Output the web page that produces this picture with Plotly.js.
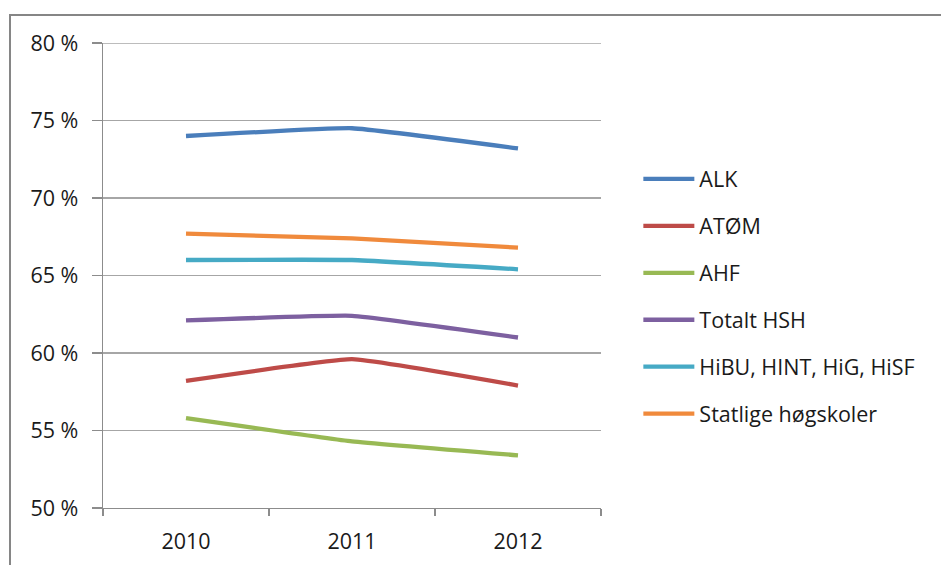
<!DOCTYPE html>
<html>
<head>
<meta charset="utf-8">
<script src="https://cdn.plot.ly/plotly-3.0.1.min.js"></script>
<style>
  html, body { margin: 0; padding: 0; background: #fff; }
  #wrap { position: relative; width: 941px; height: 565px; overflow: hidden; }
  #chart { position: absolute; left: 0; top: 0; width: 941px; height: 565px; }
  .bt { position: absolute; left: 9px; top: 14px; width: 932px; height: 2px; background: #868686; }
  .bl { position: absolute; left: 9px; top: 14px; width: 2px; height: 551px; background: #868686; }
</style>
</head>
<body>
<div id="wrap">
  <div id="chart"></div>
  <div class="bt"></div>
  <div class="bl"></div>
</div>
<script>
const years = ["2010", "2011", "2012"];
const seriesNames = ["ALK", "ATØM", "AHF", "Totalt HSH", "HiBU, HINT, HiG, HiSF", "Statlige høgskoler"];
const alk = [74.0, 74.5, 73.2];
const atom = [58.2, 59.6, 57.9];
const ahf = [55.8, 54.3, 53.4];
const totaltHSH = [62.1, 62.4, 61.0];
const hibu = [66.0, 66.0, 65.4];
const statlige = [67.7, 67.4, 66.8];
const yTickVals = [50, 55, 60, 65, 70, 75, 80];
const yTickText = ["50 %", "55 %", "60 %", "65 %", "70 %", "75 %", "80 %"];

const values = [alk, atom, ahf, totaltHSH, hibu, statlige];
const colors = ["#4A7EBB", "#BE4B48", "#98B954", "#7D60A0", "#46AAC5", "#F08A3C"];
const FONT = "Open Sans, Liberation Sans, Arial, sans-serif";
const FS = 21.5;
const yMin = yTickVals[0];
const yMax = yTickVals[yTickVals.length - 1];

const traces = values.map((v, i) => ({
  x: years,
  y: v,
  name: seriesNames[i],
  type: "scatter",
  mode: "lines",
  legendgroup: "g" + i,
  line: { color: colors[i], width: 4.3, shape: "spline", smoothing: 0.3 },
  hoverinfo: "skip"
}));

const layout = {
  width: 941,
  height: 565,
  margin: { l: 103, r: 340, t: 43, b: 57, pad: 0 },
  paper_bgcolor: "rgba(0,0,0,0)",
  plot_bgcolor: "#ffffff",
  font: { family: FONT, size: FS, color: "#1a1a1a" },
  showlegend: true,
  legend: {
    x: 1.075, xanchor: "left",
    y: 0.455, yanchor: "middle",
    traceorder: "grouped",
    tracegroupgap: 16,
    itemwidth: 51,
    font: { family: FONT, size: FS, color: "#1a1a1a" },
    bgcolor: "rgba(0,0,0,0)"
  },
  shapes: [{
    type: "line", layer: "below",
    xref: "paper", x0: 0, x1: 1,
    yref: "y", y0: yMax, y1: yMax,
    line: { color: "#a6a6a6", width: 1.3 }
  }],
  xaxis: {
    type: "category",
    range: [-0.5, 2.5],
    tickson: "boundaries",
    ticks: "outside",
    ticklen: 7,
    tickcolor: "#8c8c8c",
    tickwidth: 1.3,
    showgrid: false,
    showline: true,
    linecolor: "#8c8c8c",
    linewidth: 1.3,
    zeroline: false,
    tickfont: { family: FONT, size: FS, color: "#1a1a1a" },
    ticklabelstandoff: 14,
    fixedrange: true
  },
  yaxis: {
    range: [yMin, yMax],
    tickmode: "array",
    tickvals: yTickVals,
    ticktext: yTickText,
    ticks: "outside",
    ticklen: 10,
    tickcolor: "#8c8c8c",
    tickwidth: 1.3,
    showgrid: true,
    gridcolor: "#a6a6a6",
    gridwidth: 1.3,
    showline: true,
    linecolor: "#8c8c8c",
    linewidth: 1.3,
    zeroline: false,
    tickfont: { family: FONT, size: FS, color: "#1a1a1a" },
    ticklabelstandoff: 9,
    fixedrange: true
  }
};

Plotly.newPlot("chart", traces, layout, { staticPlot: true, displayModeBar: false });
</script>
</body>
</html>
